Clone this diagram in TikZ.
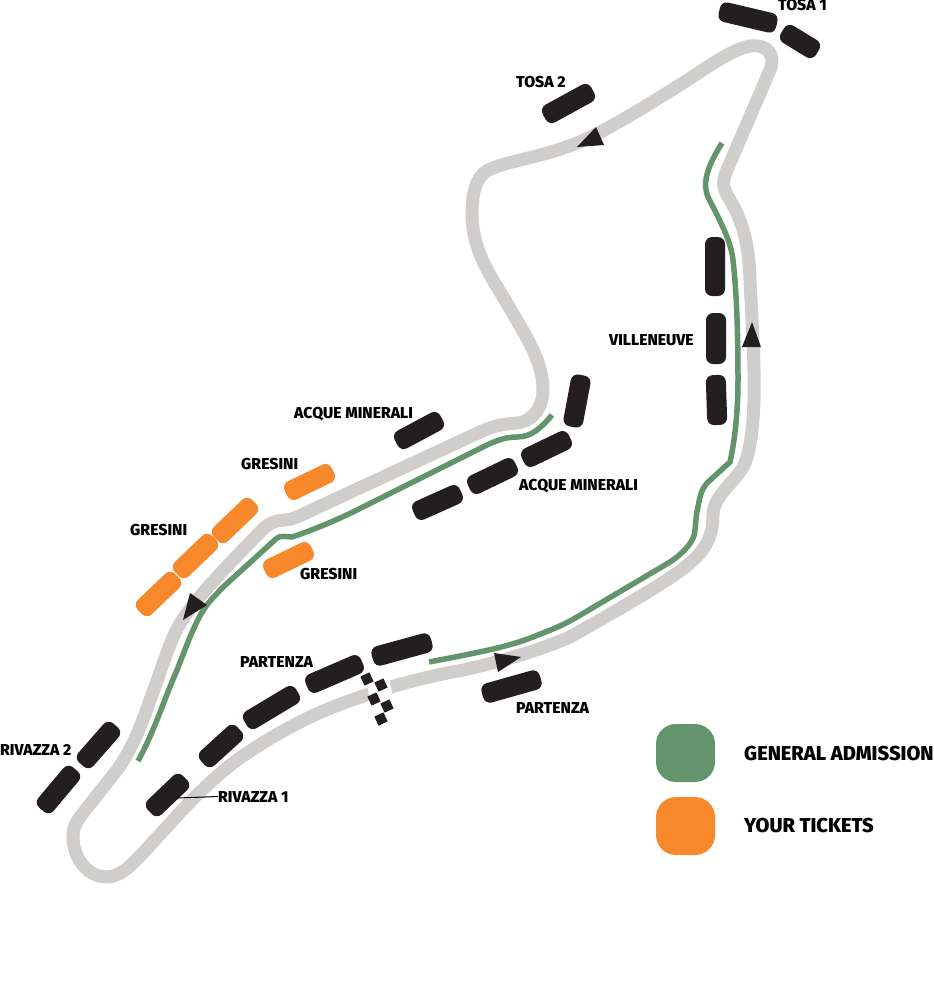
\documentclass[tikz,border=0pt]{standalone}
\usepackage{fontspec}
\newfontfamily\lblfont{Fira Sans ExtraBold}
\usepackage{tikz}
\usetikzlibrary{calc}

\definecolor{trackgray}{HTML}{CFCECC}
\definecolor{admgreen}{HTML}{63946B}
\definecolor{tickorange}{HTML}{F7882B}
\definecolor{standblack}{HTML}{231F20}

\newcommand{\standpill}[6]{%
    \path let \p1=($(#4,#5)-(#2,#3)$), \n1={atan2(\y1,\x1)}, \n2={veclen(\x1,\y1)+20pt} in
        node[#1,minimum width=\n2,rotate=\n1] (#6) at ($(#2,#3)!.5!(#4,#5)$) {};}

\begin{document}
\begin{tikzpicture}[
    x=1pt, y=-1pt,
    track/.style={trackgray,line width=13pt,line join=round},
    zone/.style={admgreen,line width=5.5pt,line join=miter},
    stand/.style={fill=standblack,minimum height=20pt,rounded corners=7pt,inner sep=0,draw=none},
    yours/.style={stand,fill=tickorange},
    dirmark/.style={fill=standblack,draw=none},
    label/.style={anchor=base west,inner sep=0,font=\lblfont\fontsize{15.8}{16}\selectfont,text=black},
    biglabel/.style={label,font=\lblfont\fontsize{20.1}{21}\selectfont},
    swatch/.style={minimum width=59pt,minimum height=58pt,rounded corners=20pt,inner sep=0,draw=none}]

    \useasboundingbox (0,0) rectangle (934,983);

    \draw[track] (297,517) -- (480,432)
        .. controls (495,425) and (505,424) .. (517,423)
        .. controls (535,421) and (543,405) .. (543,390)
        .. controls (543,360) and (525,335) .. (505,300)
        .. controls (490,275) and (472,250) .. (472,213)
        .. controls (472,185) and (480,172) .. (493,168)
        .. controls (510,161) and (545,156) .. (577,143)
        .. controls (600,134) and (640,110) .. (683,83)
        .. controls (705,69) and (730,50) .. (750,46)
        .. controls (768,44) and (776,55) .. (770,70)
        -- (727,170)
        .. controls (722,182) and (722,187) .. (730,200)
        .. controls (745,225) and (749,250) .. (750,280)
        .. controls (752,320) and (755,370) .. (754,400)
        .. controls (753,430) and (750,450) .. (745,463)
        .. controls (738,480) and (713,495) .. (713,515)
        .. controls (713,540) and (703,555) .. (677,573)
        .. controls (650,592) and (600,620) .. (570,637)
        .. controls (540,650) and (500,662) .. (463,670)
        .. controls (430,676) and (390,685) .. (333,707)
        .. controls (300,720) and (260,743) .. (233,763)
        .. controls (205,785) and (180,812) .. (167,827)
        .. controls (140,855) and (125,877) .. (107,877)
        .. controls (85,877) and (73,855) .. (73,837)
        .. controls (73,825) and (78,820) .. (83,813)
        -- (117,770)
        .. controls (130,752) and (140,730) .. (150,700)
        .. controls (158,680) and (165,655) .. (175,633)
        .. controls (185,612) and (205,590) .. (230,563)
        -- (262,530)
        .. controls (270,522) and (278,520) .. (285,520)
        .. controls (290,520) and (294,518) .. (297,517) -- cycle;

    \draw[white,line width=23pt] (377,678) -- (385,713);

    \draw[zone] (138,761) .. controls (155,730) and (165,697) .. (177,670)
        .. controls (187,645) and (197,615) .. (211,600)
        .. controls (220,590) and (225,585) .. (233,578)
        -- (277,538)
        .. controls (281,535) and (286,537) .. (292,537)
        .. controls (310,531) and (330,523) .. (353,512)
        -- (487,445)
        .. controls (500,439) and (508,437) .. (517,437)
        .. controls (532,437) and (542,427) .. (552,415);
    \draw[zone] (429,662) .. controls (470,654) and (505,648) .. (533,637)
        .. controls (550,630) and (560,627) .. (577,617)
        -- (670,562)
        .. controls (685,552) and (695,540) .. (695,530)
        .. controls (696,520) and (696,515) .. (698,507)
        .. controls (700,495) and (702,489) .. (707,483)
        -- (730,462)
        .. controls (735,440) and (738,410) .. (738,380)
        .. controls (738,340) and (737,295) .. (733,260)
        .. controls (731,240) and (718,217) .. (708,197)
        .. controls (703,185) and (705,170) .. (722,143);

    \foreach \xa/\ya/\xb/\yb [count=\i] in {
        729/13/767/22, 791/36/809/47, 553/112/584/95,
        715/247/715/286, 716/323/716/354, 716/385/717/415,
        580/385/574/417, 405/438/433/423,
        423/509/452/496, 478/483/507/469, 532/456/561/442,
        88/757/109/733, 48/802/69/777,
        157/805/178/785, 210/756/232/736, 254/718/289/697, 316/682/353/666, 382/655/422/644,
        492/692/531/681}
        {\standpill{stand}{\xa}{\ya}{\xb}{\yb}{stand\i}}

    \foreach \xa/\ya/\xb/\yb [count=\i] in {
        295/489/324/475, 223/532/247/509, 184/567/207/545, 147/605/170/583, 274/567/303/553}
        {\standpill{yours}{\xa}{\ya}{\xb}{\yb}{yours\i}}

    \foreach \xc/\yc in {367/679, 381/685, 374/699, 387/706, 381/719}
        \fill[standblack,rotate around={25:(\xc,\yc)}] (\xc-5,\yc-5) rectangle (\xc+5,\yc+5);

    \fill[dirmark] (596,127) -- (604,145) -- (577,147) -- cycle;
    \fill[dirmark] (190,593) -- (207,605) -- (183,620) -- cycle;
    \fill[dirmark] (494,653) -- (521,657) -- (498,672) -- cycle;
    \fill[dirmark] (752,322) -- (761,347) -- (742,347) -- cycle;

    \node[label] (tosaone) at (778,10) {TOSA 1};
    \node[label] (tosatwo) at (516,87) {TOSA 2};
    \node[label] (villeneuve) at (609,345) {VILLENEUVE};
    \node[label] (acquetop) at (294,418) {ACQUE MINERALI};
    \node[label] (acquelow) at (519,490) {ACQUE MINERALI};
    \node[label] (gresinitop) at (241,469) {GRESINI};
    \node[label] (gresinileft) at (130,535) {GRESINI};
    \node[label] (gresinilow) at (300,579) {GRESINI};
    \node[label] (partenzatop) at (240,667) {PARTENZA};
    \node[label] (partenzalow) at (516,713) {PARTENZA};
    \node[label] (rivazzatwo) at (0,755) {RIVAZZA 2};
    \node[label] (rivazzaone) at (218,802) {RIVAZZA 1};
    \draw[black,line width=1pt] (177,798) -- (rivazzaone.west);

    \node[swatch,fill=admgreen] (swgreen) at (685.5,753) {};
    \node[swatch,fill=tickorange] (sworange) at (685.5,826) {};
    \node[biglabel] (general) at (744,760) {GENERAL ADMISSION};
    \node[biglabel] (tickets) at (744,832) {YOUR TICKETS};
\end{tikzpicture}
\end{document}
